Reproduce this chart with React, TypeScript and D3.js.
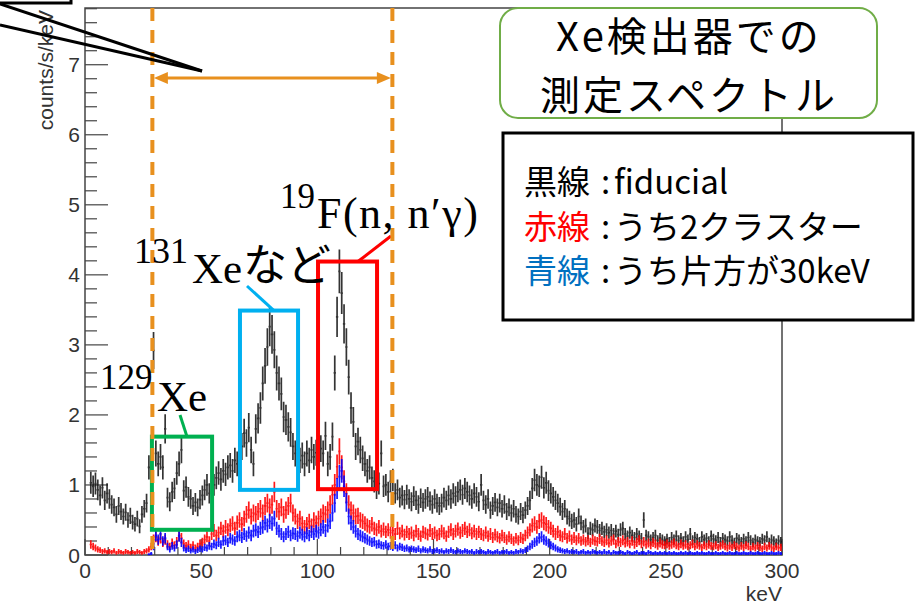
import React from 'react';
import * as d3 from 'd3';

// ---------- data (1 keV bins starting at 2 keV) ----------
const binStart = 2;
const binWidth = 1;

const blackValues = [
  1.03, 0.98, 1.02, 0.93, 0.85, 0.96, 0.78, 0.88,
  0.80, 0.72, 0.68, 0.58, 0.70, 0.62, 0.55, 0.61, 0.50, 0.56,
  0.47, 0.44, 0.52, 0.41, 0.58, 0.66, 0.74, 1.25, 1.32, 2.92,
  1.45, 1.30, 1.40, 1.25, 1.80, 0.82, 0.76, 0.90, 0.95, 1.17,
  1.30, 1.50, 0.92, 0.97, 0.83, 0.80, 0.70, 0.75, 0.68, 0.79,
  0.85, 0.93, 1.00, 0.88, 1.05, 1.00, 1.10, 1.17, 1.08, 1.20,
  1.15, 1.25, 1.28, 1.20, 1.35, 1.30, 1.45, 1.55, 1.74, 1.60,
  1.82, 1.50, 1.30, 1.80, 1.95, 2.10, 2.45, 2.70, 2.97, 3.26,
  3.15, 2.93, 2.60, 2.45, 2.30, 1.97, 1.93, 1.83, 1.75, 1.55,
  1.45, 1.50, 1.35, 1.42, 1.30, 1.45, 1.35, 1.50, 1.40, 1.46,
  1.35, 1.52, 1.45, 1.70, 1.30, 1.40, 1.69, 2.60, 3.40, 4.05,
  3.74, 3.30, 2.97, 2.54, 2.10, 1.90, 1.55, 1.62, 1.50, 1.38,
  1.30, 1.20, 1.25, 1.10, 1.05, 0.95, 1.02, 1.45, 0.98, 1.00,
  0.90, 1.05, 1.07, 0.88, 0.93, 0.82, 0.85, 0.79, 0.86, 0.80,
  0.76, 0.84, 0.78, 0.72, 0.81, 0.75, 0.80, 0.83, 0.77, 0.72,
  0.80, 0.74, 0.70, 0.74, 0.82, 0.78, 0.85, 0.80, 0.88, 0.84,
  0.90, 0.93, 0.86, 0.95, 0.90, 0.85, 0.80, 0.88, 0.83, 0.76,
  1.00, 0.78, 0.72, 0.80, 0.64, 0.70, 0.75, 0.68, 0.74, 0.66,
  0.72, 0.62, 0.68, 0.60, 0.66, 0.58, 0.55, 0.62, 0.57, 0.64,
  0.70, 0.78, 0.95, 1.07, 1.00, 0.98, 1.11, 0.96, 1.03, 0.92,
  0.88, 0.83, 0.78, 0.74, 0.69, 0.62, 0.66, 0.55, 0.52, 0.48,
  0.50, 0.44, 0.55, 0.46, 0.40, 0.42, 0.31, 0.38, 0.36, 0.42,
  0.40, 0.35, 0.38, 0.33, 0.36, 0.32, 0.35, 0.30, 0.34, 0.29,
  0.36, 0.38, 0.30, 0.27, 0.32, 0.28, 0.25, 0.30, 0.27, 0.24,
  0.50, 0.28, 0.26, 0.22, 0.25, 0.28, 0.21, 0.24, 0.22, 0.20,
  0.23, 0.19, 0.25, 0.22, 0.27, 0.21, 0.24, 0.20, 0.26, 0.22,
  0.30, 0.21, 0.25, 0.23, 0.19, 0.26, 0.22, 0.24, 0.20, 0.27,
  0.23, 0.21, 0.25, 0.19, 0.24, 0.22, 0.20, 0.26, 0.21, 0.18,
  0.24, 0.22, 0.19, 0.23, 0.20, 0.25, 0.21, 0.18, 0.22, 0.20,
  0.19, 0.23, 0.21, 0.26, 0.18, 0.22, 0.20, 0.17, 0.21, 0.19,
];

const redValues = [
  0.15, 0.12, 0.10, 0.08, 0.07, 0.05, 0.06, 0.04,
  0.05, 0.04, 0.06, 0.03, 0.05, 0.04, 0.03, 0.05, 0.04, 0.03,
  0.04, 0.03, 0.05, 0.04, 0.03, 0.05, 0.06, 0.08, 0.12, 0.22,
  0.26, 0.20, 0.24, 0.18, 0.22, 0.15, 0.12, 0.17, 0.14, 0.19,
  0.28, 0.24, 0.16, 0.13, 0.15, 0.11, 0.14, 0.10, 0.12, 0.16,
  0.18, 0.22, 0.26, 0.20, 0.30, 0.35, 0.28, 0.32, 0.38, 0.34,
  0.40, 0.36, 0.42, 0.45, 0.38, 0.46, 0.50, 0.44, 0.52, 0.58,
  0.64, 0.55, 0.60, 0.58, 0.62, 0.66, 0.60, 0.70, 0.74, 0.68,
  0.72, 0.90, 0.66, 0.62, 0.68, 0.58, 0.64, 0.70, 0.74, 0.60,
  0.55, 0.48, 0.52, 0.45, 0.40, 0.44, 0.48, 0.42, 0.50, 0.46,
  0.52, 0.55, 0.60, 0.58, 0.64, 0.72, 0.86, 1.00, 1.26, 1.48,
  1.25, 1.05, 0.88, 0.72, 0.64, 0.60, 0.55, 0.56, 0.50, 0.48,
  0.45, 0.42, 0.40, 0.44, 0.38, 0.36, 0.40, 0.34, 0.37, 0.33,
  0.36, 0.32, 0.35, 0.30, 0.38, 0.31, 0.34, 0.29, 0.33, 0.30,
  0.32, 0.28, 0.34, 0.30, 0.27, 0.33, 0.31, 0.29, 0.35, 0.30,
  0.32, 0.28, 0.30, 0.34, 0.31, 0.27, 0.33, 0.36, 0.30, 0.34,
  0.37, 0.32, 0.35, 0.38, 0.33, 0.36, 0.31, 0.34, 0.30, 0.33,
  0.30, 0.28, 0.32, 0.27, 0.30, 0.25, 0.29, 0.26, 0.24, 0.28,
  0.25, 0.22, 0.26, 0.23, 0.20, 0.24, 0.21, 0.25, 0.23, 0.28,
  0.32, 0.36, 0.42, 0.45, 0.40, 0.48, 0.50, 0.46, 0.44, 0.40,
  0.38, 0.34, 0.30, 0.33, 0.28, 0.26, 0.30, 0.24, 0.27, 0.22,
  0.25, 0.21, 0.24, 0.20, 0.22, 0.19, 0.21, 0.18, 0.22, 0.20,
  0.19, 0.23, 0.20, 0.18, 0.21, 0.17, 0.20, 0.22, 0.16, 0.19,
  0.18, 0.21, 0.17, 0.19, 0.16, 0.20, 0.15, 0.18, 0.21, 0.16,
  0.19, 0.15, 0.17, 0.14, 0.18, 0.16, 0.13, 0.17, 0.15, 0.14,
  0.16, 0.13, 0.15, 0.17, 0.14, 0.12, 0.16, 0.13, 0.15, 0.12,
  0.14, 0.16, 0.12, 0.15, 0.13, 0.11, 0.14, 0.12, 0.15, 0.13,
  0.12, 0.14, 0.11, 0.13, 0.15, 0.12, 0.10, 0.13, 0.11, 0.14,
  0.12, 0.10, 0.13, 0.11, 0.14, 0.12, 0.09, 0.12, 0.10, 0.13,
  0.11, 0.09, 0.12, 0.10, 0.13, 0.11, 0.09, 0.12, 0.10, 0.11,
];

const blueValues = [
  0, 0, 0, 0, 0, 0, 0, 0,
  0, 0, 0, 0, 0, 0, 0, 0, 0, 0,
  0, 0, 0, 0, 0, 0, 0, 0.01, 0.02, 0.12,
  0.28, 0.22, 0.30, 0.20, 0.24, 0.12, 0.08, 0.13, 0.10, 0.15,
  0.27, 0.18, 0.10, 0.07, 0.09, 0.06, 0.08, 0.05, 0.07, 0.09,
  0.08, 0.11, 0.10, 0.13, 0.12, 0.16, 0.14, 0.18, 0.15, 0.20,
  0.21, 0.18, 0.24, 0.22, 0.20, 0.26, 0.28, 0.25, 0.30, 0.27,
  0.32, 0.28, 0.34, 0.36, 0.33, 0.38, 0.40, 0.46, 0.42, 0.48,
  0.45, 0.52, 0.38, 0.34, 0.30, 0.26, 0.30, 0.33, 0.28, 0.31,
  0.30, 0.27, 0.32, 0.29, 0.26, 0.31, 0.28, 0.33, 0.30, 0.34,
  0.32, 0.36, 0.40, 0.35, 0.42, 0.48, 0.60, 0.74, 0.95, 1.12,
  1.20, 0.98, 0.75, 0.55, 0.46, 0.40, 0.34, 0.30, 0.28, 0.26,
  0.24, 0.22, 0.20, 0.18, 0.19, 0.15, 0.16, 0.14, 0.13, 0.15,
  0.12, 0.13, 0.11, 0.14, 0.10, 0.12, 0.11, 0.09, 0.10, 0.08,
  0.09, 0.08, 0.07, 0.09, 0.06, 0.08, 0.07, 0.06, 0.08, 0.05,
  0.06, 0.07, 0.05, 0.06, 0.04, 0.06, 0.05, 0.07, 0.05, 0.04,
  0.06, 0.05, 0.04, 0.06, 0.05, 0.04, 0.05, 0.03, 0.05, 0.04,
  0.05, 0.04, 0.03, 0.05, 0.04, 0.03, 0.04, 0.05, 0.03, 0.04,
  0.04, 0.05, 0.03, 0.04, 0.03, 0.05, 0.04, 0.06, 0.05, 0.07,
  0.09, 0.12, 0.15, 0.18, 0.20, 0.24, 0.26, 0.22, 0.20, 0.17,
  0.14, 0.12, 0.10, 0.08, 0.07, 0.06, 0.05, 0.06, 0.04, 0.05,
  0.04, 0.05, 0.03, 0.04, 0.05, 0.03, 0.04, 0.03, 0.05, 0.04,
  0.03, 0.04, 0.03, 0.05, 0.03, 0.04, 0.02, 0.04, 0.03, 0.03,
  0.04, 0.03, 0.02, 0.04, 0.03, 0.02, 0.03, 0.04, 0.02, 0.03,
  0.03, 0.02, 0.04, 0.03, 0.02, 0.03, 0.02, 0.03, 0.02, 0.03,
  0.02, 0.03, 0.02, 0.03, 0.02, 0.02, 0.03, 0.02, 0.03, 0.02,
  0.03, 0.02, 0.02, 0.03, 0.02, 0.03, 0.02, 0.02, 0.03, 0.02,
  0.02, 0.03, 0.02, 0.02, 0.03, 0.02, 0.02, 0.03, 0.02, 0.02,
  0.03, 0.02, 0.02, 0.03, 0.02, 0.02, 0.03, 0.02, 0.02, 0.03,
  0.02, 0.02, 0.03, 0.02, 0.02, 0.03, 0.02, 0.02, 0.03, 0.02,
];

const xTickLabels = [0, 50, 100, 150, 200, 250, 300];
const yTickLabels = [0, 1, 2, 3, 4, 5, 6, 7];
const xDomain = [0, 300];
const yDomain = [0, 7.81];
const energyWindow = [29.0, 132.3];
// annotation regions [keVlo, keVhi, yLo, yHi]
const regionXe129 = [28.8, 54.7, 0.36, 1.69];
const regionXe131 = [66.7, 91.7, 0.93, 3.49];
const regionF19 = [100.3, 125.7, 0.94, 4.19];

const W = 922;
const H = 606;
const frame = { left: 85, right: 782, top: 8, bottom: 555 };

const ORANGE = '#E8901E';
const AXIS = '#444';
const TXT = '#333';

function errPath(vals: number[], x: d3.ScaleLinear<number, number>, y: d3.ScaleLinear<number, number>) {
  let p = '';
  vals.forEach((v, i) => {
    if (v <= 0) return;
    const lo = binStart + i * binWidth;
    const x0 = x(lo);
    const x1 = x(lo + binWidth);
    const xc = (x0 + x1) / 2;
    const e = Math.sqrt(v * 0.024);
    const yv = y(v);
    p += `M${x0.toFixed(2)},${yv.toFixed(2)}H${x1.toFixed(2)}`;
    p += `M${xc.toFixed(2)},${y(v + e).toFixed(2)}V${y(Math.max(0, v - e)).toFixed(2)}`;
  });
  return p;
}

export default function App() {
  const x = d3.scaleLinear().domain(xDomain).range([frame.left, frame.right]);
  const y = d3.scaleLinear().domain(yDomain).range([frame.bottom, frame.top]);

  const xMinor = d3.range(0, 300.01, 10);
  const yMinor = d3.range(0, 7.81, 0.2);

  const series = [
    { vals: blackValues, color: '#111', op: 0.85 },
    { vals: redValues, color: '#ff0000', op: 0.9 },
    { vals: blueValues, color: '#0000ff', op: 0.9 },
  ];

  const box = (r: number[], color: string) => (
    <rect
      x={x(r[0])}
      y={y(r[3])}
      width={x(r[1]) - x(r[0])}
      height={y(r[2]) - y(r[3])}
      fill="none"
      stroke={color}
      strokeWidth={4}
    />
  );

  const arrowY = 78;
  const aL = x(energyWindow[0]) + 1.5;
  const aR = x(energyWindow[1]) - 1.5;

  return (
    <svg
      width={W}
      height={H}
      style={{ position: 'absolute', left: 0, top: 0, background: '#fff' }}
      fontFamily="'Liberation Sans', Arial, sans-serif"
    >
      <rect x={0} y={0} width={W} height={H} fill="#fff" />

      {/* frame */}
      <rect
        x={frame.left}
        y={frame.top}
        width={frame.right - frame.left}
        height={frame.bottom - frame.top}
        fill="none"
        stroke={AXIS}
        strokeWidth={1.5}
      />

      {/* x ticks */}
      {xMinor.map((t) => {
        const major = t % 50 === 0;
        return (
          <line
            key={'xt' + t}
            x1={x(t)}
            x2={x(t)}
            y1={frame.bottom}
            y2={frame.bottom - (major ? 16 : 8)}
            stroke={AXIS}
            strokeWidth={1.2}
          />
        );
      })}
      {xTickLabels.map((t) => (
        <text key={'xl' + t} x={x(t)} y={578} textAnchor="middle" fontSize={21} fill={TXT}>
          {t}
        </text>
      ))}
      <text x={frame.right} y={601} textAnchor="end" fontSize={21} fill={TXT}>
        keV
      </text>

      {/* y ticks */}
      {yMinor.map((t, i) => {
        const major = i % 5 === 0;
        return (
          <line
            key={'yt' + i}
            x1={frame.left}
            x2={frame.left + (major ? 23 : 12)}
            y1={y(t)}
            y2={y(t)}
            stroke={AXIS}
            strokeWidth={1.2}
          />
        );
      })}
      {yTickLabels.map((t) => (
        <text key={'yl' + t} x={80} y={y(t) + 7.5} textAnchor="end" fontSize={21} fill={TXT}>
          {t}
        </text>
      ))}
      <text
        transform={`translate(53,${frame.top + 2}) rotate(-90)`}
        textAnchor="end"
        fontSize={21}
        fill={TXT}
      >
        counts/s/keV
      </text>

      {/* data */}
      {series.map((s, i) => (
        <path
          key={'s' + i}
          d={errPath(s.vals, x, y)}
          fill="none"
          stroke={s.color}
          strokeOpacity={s.op}
          strokeWidth={1.7}
        />
      ))}

      {/* annotation boxes */}
      {box(regionXe129, '#00B050')}
      {box(regionXe131, '#00B0F0')}
      {box(regionF19, '#FF0000')}
      <line x1={180} y1={415} x2={187} y2={y(regionXe129[3])} stroke="#00B050" strokeWidth={3} />
      <line x1={247} y1={286} x2={274} y2={y(regionXe131[3])} stroke="#00B0F0" strokeWidth={3} />
      <line x1={391} y1={236} x2={358} y2={y(regionF19[3])} stroke="#FF0000" strokeWidth={3} />

      {/* energy window */}
      {energyWindow.map((e, i) => (
        <line
          key={'ew' + i}
          x1={x(e)}
          x2={x(e)}
          y1={frame.top}
          y2={frame.bottom}
          stroke={ORANGE}
          strokeWidth={4}
          strokeDasharray="13 9"
        />
      ))}
      <line x1={aL + 12} x2={aR - 12} y1={arrowY} y2={arrowY} stroke={ORANGE} strokeWidth={3} />
      <polygon points={`${aL},${arrowY} ${aL + 14},${arrowY - 6} ${aL + 14},${arrowY + 6}`} fill={ORANGE} />
      <polygon points={`${aR},${arrowY} ${aR - 14},${arrowY - 6} ${aR - 14},${arrowY + 6}`} fill={ORANGE} />

      {/* top-left callout */}
      <rect x={-5} y={-10} width={76} height={13} fill="#fff" stroke="#000" strokeWidth={3} />
      <line x1={0} y1={4} x2={202} y2={71} stroke="#000" strokeWidth={3} />
      <line x1={0} y1={25} x2={202} y2={71} stroke="#000" strokeWidth={3} />

      {/* labels */}
      <g fontFamily="'Liberation Serif', 'Times New Roman', serif" fill="#000">
        <text x={280} y={208} fontSize={35}>19</text>
        <text x={317} y={228} fontSize={44} letterSpacing={1.5}>
          F(n, n′γ)
        </text>
        <text x={134} y={263} fontSize={36}>131</text>
        <text x={192} y={283} fontSize={43}>Xe</text>
        <text x={100} y={389} fontSize={35}>129</text>
        <text x={157} y={411} fontSize={43}>Xe</text>
      </g>
      <text x={243} y={281} fontSize={44} fontFamily="'Noto Sans CJK JP', sans-serif" fill="#000">
        など
      </text>

      {/* title box */}
      <rect x={500} y={8} width={377} height={110} rx={18} ry={18} fill="#fff" stroke="#70AD47" strokeWidth={2} />
      <g fontFamily="'Noto Sans CJK JP', sans-serif" fill="#000" fontSize={40} letterSpacing={3} textAnchor="middle">
        <text x={689} y={51}>Xe検出器での</text>
        <text x={689} y={110}>測定スペクトル</text>
      </g>

      {/* legend box */}
      <rect x={503} y={133} width={410} height={187} fill="#fff" stroke="#000" strokeWidth={3} />
      <g fontFamily="'Noto Sans CJK JP', sans-serif" fontSize={33}>
        <text x={524} y={194} fill="#000">黒線</text>
        <text x={601} y={194} fill="#000">:</text>
        <text x={614} y={194} fill="#000">fiducial</text>
        <text x={524} y={239} fill="#FF0000">赤線</text>
        <text x={601} y={239} fill="#000">:</text>
        <text x={614} y={239} fill="#000">うち2クラスター</text>
        <text x={524} y={283} fill="#0070C0">青線</text>
        <text x={601} y={283} fill="#000">:</text>
        <text x={614} y={283} fill="#000">うち片方が30keV</text>
      </g>
    </svg>
  );
}
